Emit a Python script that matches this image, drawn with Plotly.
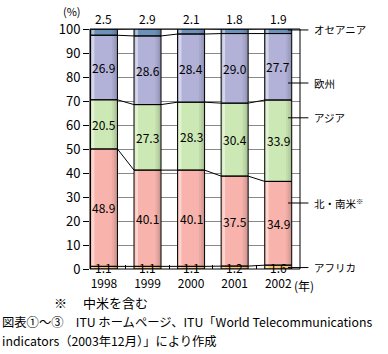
import plotly.graph_objects as go

years = ["1998", "1999", "2000", "2001", "2002"]
series_names = ["アフリカ", "北・南米", "アジア", "欧州", "オセアニア"]
africa = [1.1, 1.1, 1.1, 1.2, 1.6]
americas = [48.9, 40.1, 40.1, 37.5, 34.9]
asia = [20.5, 27.3, 28.3, 30.4, 33.9]
europe = [26.9, 28.6, 28.4, 29.0, 27.7]
oceania = [2.5, 2.9, 2.1, 1.8, 1.9]
colors = ["#f8c878", "#f8b4ac", "#cce8b4", "#b2b2d8", "#6c92ba"]
yticks = [0, 10, 20, 30, 40, 50, 60, 70, 80, 90, 100]
# label anchor values (y) for the right-side legend labels
legend_y = [0.6, 27.5, 63, 77.5, 99.6]

FONT = "Noto Sans CJK JP"
series = [africa, americas, asia, europe, oceania]
xs = list(range(len(years)))
BW = 0.62

# cumulative boundaries
cums = []
bases = []
run = [0.0] * len(years)
for vals in series:
    bases.append(list(run))
    run = [r + v for r, v in zip(run, vals)]
    cums.append(list(run))

fig = go.Figure()
for name, vals, col, bs in zip(series_names, series, colors, bases):
    # fill
    fig.add_trace(go.Bar(x=xs, y=vals, base=bs, name=name, width=BW,
                         marker=dict(color=col, line=dict(width=0)), showlegend=False))
    # left highlight strip
    fig.add_trace(go.Bar(x=xs, y=vals, base=bs, width=0.06, offset=-BW / 2 + 0.03,
                         marker=dict(color="rgba(255,255,255,0.45)", line=dict(width=0)),
                         showlegend=False, hoverinfo="skip"))
    # right shading strips (gradient approximation)
    for w, a in [(0.13, 0.05), (0.08, 0.06), (0.04, 0.07)]:
        fig.add_trace(go.Bar(x=xs, y=vals, base=bs, width=w, offset=BW / 2 - w,
                             marker=dict(color=f"rgba(0,0,0,{a})", line=dict(width=0)),
                             showlegend=False, hoverinfo="skip"))
# outlines
for vals, bs in zip(series, bases):
    fig.add_trace(go.Bar(x=xs, y=vals, base=bs, width=BW,
                         marker=dict(color="rgba(0,0,0,0)", line=dict(color="black", width=1)),
                         showlegend=False, hoverinfo="skip"))

# connector lines between bars
for cum in cums:
    lx, ly = [], []
    for i in range(len(years) - 1):
        lx += [i + BW / 2, i + 1 - BW / 2, None]
        ly += [cum[i], cum[i + 1], None]
    fig.add_trace(go.Scatter(x=lx, y=ly, mode="lines", line=dict(color="black", width=1),
                             showlegend=False, hoverinfo="skip"))

ann = []
# inside labels for segments (all but Oceania)
for k, vals in enumerate(series[:4]):
    for i, v in enumerate(vals):
        mid = bases[k][i] + v / 2
        ann.append(dict(x=i, y=mid, text=f"{v:.1f}", showarrow=False,
                        font=dict(size=12, color="black", family=FONT)))
# Oceania labels above bars
for i, v in enumerate(oceania):
    ann.append(dict(x=i, y=100, text=f"{v:.1f}", showarrow=False, yanchor="bottom", yshift=0,
                    font=dict(size=12, color="black", family=FONT)))

# right-side labels with leader lines
shapes = []
labels = ["アフリカ", "北・南米<sup>※</sup>", "アジア", "欧州", "オセアニア"]
for lab, yv in zip(labels, legend_y):
    shapes.append(dict(type="line", xref="paper", yref="y", x0=0.943, x1=1.04, y0=yv, y1=yv,
                       line=dict(color="black", width=1)))
    ann.append(dict(xref="paper", yref="y", x=1.055, y=yv, text=lab, showarrow=False,
                    xanchor="left", font=dict(size=10.5, color="black", family=FONT)))

# plot frame
shapes.append(dict(type="rect", xref="paper", yref="paper", x0=0, x1=1, y0=0, y1=1,
                   line=dict(color="black", width=1), layer="above"))

ann.append(dict(xref="paper", yref="paper", x=-0.14, y=1.0, yanchor="bottom", yshift=8,
                text="(%)", showarrow=False, font=dict(size=11, color="black", family=FONT)))
ann.append(dict(x=4, y=0, yref="y", text="(年)", showarrow=False, xanchor="left",
                yanchor="top", xshift=14, yshift=-6, font=dict(size=12, color="black", family=FONT)))
ann.append(dict(xref="paper", yref="paper", x=-0.18, y=-0.092, xanchor="left", yanchor="top",
                text="※　 中米を含む", showarrow=False, font=dict(size=13, color="black", family=FONT)))
ann.append(dict(xref="paper", yref="paper", x=-0.425, y=-0.18, xanchor="left", yanchor="top",
                text="図表①～③　ITU ホームページ、ITU「World Telecommunications", borderpad=0,
                showarrow=False, font=dict(size=12.3, color="black", family=FONT)))
ann.append(dict(xref="paper", yref="paper", x=-0.425, y=-0.18, xanchor="left", yanchor="top",
                yshift=-19, text="indicators（2003年12月）」により作成", borderpad=0,
                showarrow=False, font=dict(size=12.3, color="black", family=FONT)))

fig.update_layout(
    barmode="overlay",
    width=388, height=354,
    margin=dict(l=90, r=88, t=29, b=85),
    paper_bgcolor="white", plot_bgcolor="white",
    font=dict(family=FONT, size=12, color="black"),
    annotations=ann, shapes=shapes,
    xaxis=dict(range=[-0.32, 4.5], tickvals=xs, ticktext=years, showgrid=False,
               zeroline=False, showline=False, ticks="outside", ticklen=4, tickcolor="white",
               tickfont=dict(size=12),
               minor=dict(tickvals=[x + 0.5 for x in xs[:-1]], ticks="inside", ticklen=4,
                          tickcolor="black", showgrid=False)),
    yaxis=dict(range=[0, 100], tickvals=yticks, showgrid=True, gridcolor="#8a8a8a",
               gridwidth=1, zeroline=False, showline=False, ticks="outside", ticklen=6,
               tickcolor="black", tickfont=dict(size=13)),
)

fig.write_html("out.html")
